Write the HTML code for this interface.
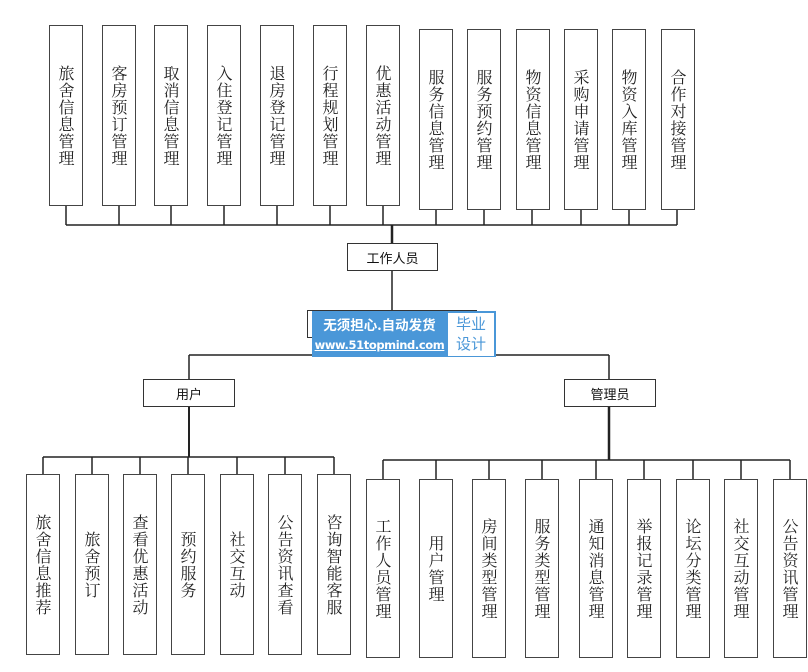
<!DOCTYPE html>
<html><head><meta charset="utf-8"><style>
html,body{margin:0;padding:0;background:#fff;}
body{width:808px;height:672px;position:relative;overflow:hidden;font-family:"Liberation Sans","Noto Sans CJK SC",sans-serif;}
.v{position:absolute;box-sizing:border-box;border:1.5px solid #444;background:#fff;display:flex;justify-content:center;align-items:center;}
.v span{writing-mode:vertical-rl;font-family:"Noto Serif CJK SC","Noto Sans CJK SC",serif;font-size:16px;line-height:18px;color:#222;letter-spacing:1px;}
.h{position:absolute;box-sizing:border-box;border:1.5px solid #333;background:#fff;display:flex;justify-content:center;align-items:center;font-size:13px;color:#111;font-family:"Noto Sans CJK SC",sans-serif;}
svg{position:absolute;left:0;top:0;}
</style></head><body>
<svg width="808" height="672">
<g stroke="#222" stroke-width="1.5" fill="none">
<line x1="66" y1="225" x2="677" y2="225"/>
<line x1="66" y1="205" x2="66" y2="225"/><line x1="119" y1="205" x2="119" y2="225"/><line x1="171" y1="205" x2="171" y2="225"/><line x1="224" y1="205" x2="224" y2="225"/><line x1="277" y1="205" x2="277" y2="225"/><line x1="330" y1="205" x2="330" y2="225"/><line x1="383" y1="205" x2="383" y2="225"/>
<line x1="436" y1="209" x2="436" y2="225"/><line x1="484" y1="209" x2="484" y2="225"/><line x1="532" y1="209" x2="532" y2="225"/><line x1="581" y1="209" x2="581" y2="225"/><line x1="629" y1="209" x2="629" y2="225"/><line x1="677" y1="209" x2="677" y2="225"/>
<line x1="392" y1="225" x2="392" y2="243" stroke-width="2.5"/>
<line x1="392" y1="270" x2="392" y2="312"/>
<line x1="189" y1="355" x2="609" y2="355"/>
<line x1="189" y1="355" x2="189" y2="379"/>
<line x1="609" y1="355" x2="609" y2="379"/>
<line x1="189" y1="406" x2="189" y2="457" stroke-width="2"/>
<line x1="609" y1="406" x2="609" y2="460" stroke-width="2.5"/>
<line x1="43" y1="457" x2="334" y2="457"/>
<line x1="43" y1="457" x2="43" y2="474"/><line x1="92" y1="457" x2="92" y2="474"/><line x1="140" y1="457" x2="140" y2="474"/><line x1="188" y1="457" x2="188" y2="474"/><line x1="237" y1="457" x2="237" y2="474"/><line x1="285" y1="457" x2="285" y2="474"/><line x1="334" y1="457" x2="334" y2="474"/>
<line x1="383" y1="460" x2="790" y2="460"/>
<line x1="383" y1="460" x2="383" y2="479"/><line x1="436" y1="460" x2="436" y2="479"/><line x1="489" y1="460" x2="489" y2="479"/><line x1="542" y1="460" x2="542" y2="479"/><line x1="596" y1="460" x2="596" y2="479"/><line x1="644" y1="460" x2="644" y2="479"/><line x1="693" y1="460" x2="693" y2="479"/><line x1="741" y1="460" x2="741" y2="479"/><line x1="790" y1="460" x2="790" y2="479"/>
</g></svg>

<div class="v" style="left:49px;top:25px;width:34px;height:181px"><span>旅舍信息管理</span></div>
<div class="v" style="left:102px;top:25px;width:34px;height:181px"><span>客房预订管理</span></div>
<div class="v" style="left:154px;top:25px;width:34px;height:181px"><span>取消信息管理</span></div>
<div class="v" style="left:207px;top:25px;width:34px;height:181px"><span>入住登记管理</span></div>
<div class="v" style="left:260px;top:25px;width:34px;height:181px"><span>退房登记管理</span></div>
<div class="v" style="left:313px;top:25px;width:34px;height:181px"><span>行程规划管理</span></div>
<div class="v" style="left:366px;top:25px;width:34px;height:181px"><span>优惠活动管理</span></div>
<div class="v" style="left:419px;top:29px;width:34px;height:181px"><span>服务信息管理</span></div>
<div class="v" style="left:467px;top:29px;width:34px;height:181px"><span>服务预约管理</span></div>
<div class="v" style="left:516px;top:29px;width:34px;height:181px"><span>物资信息管理</span></div>
<div class="v" style="left:564px;top:29px;width:34px;height:181px"><span>采购申请管理</span></div>
<div class="v" style="left:612px;top:29px;width:34px;height:181px"><span>物资入库管理</span></div>
<div class="v" style="left:661px;top:29px;width:34px;height:181px"><span>合作对接管理</span></div>

<div class="h" style="left:347px;top:243px;width:91px;height:28px">工作人员</div>
<div class="h" style="left:307px;top:310px;width:170px;height:28px"></div>
<div style="position:absolute;left:312px;top:311px;width:184px;height:46px;background:#4a97d8;"></div>
<div style="position:absolute;left:312px;top:314px;width:135px;color:#fff;font-size:13.5px;font-weight:bold;text-align:center;font-family:'Noto Sans CJK SC',sans-serif;line-height:20px;">无须担心.自动发货</div>
<div style="position:absolute;left:312px;top:336px;width:135px;color:#fff;font-size:11.5px;font-weight:bold;text-align:center;text-decoration:underline;font-family:'DejaVu Sans',sans-serif;line-height:18px;letter-spacing:-0.4px;white-space:nowrap;">www.51topmind.com</div>
<div style="position:absolute;left:448px;top:313px;width:46px;height:43px;background:#fff;color:#4a97d8;font-size:15px;line-height:20px;text-align:center;font-family:'Noto Sans CJK SC',sans-serif;padding-top:1px;box-sizing:border-box;">毕业<br>设计</div>

<div class="h" style="left:143px;top:379px;width:92px;height:28px">用户</div>
<div class="h" style="left:564px;top:379px;width:92px;height:28px">管理员</div>

<div class="v" style="left:26px;top:474px;width:34px;height:181px"><span>旅舍信息推荐</span></div>
<div class="v" style="left:75px;top:474px;width:34px;height:181px"><span>旅舍预订</span></div>
<div class="v" style="left:123px;top:474px;width:34px;height:181px"><span>查看优惠活动</span></div>
<div class="v" style="left:171px;top:474px;width:34px;height:181px"><span>预约服务</span></div>
<div class="v" style="left:220px;top:474px;width:34px;height:181px"><span>社交互动</span></div>
<div class="v" style="left:268px;top:474px;width:34px;height:181px"><span>公告资讯查看</span></div>
<div class="v" style="left:317px;top:474px;width:34px;height:181px"><span>咨询智能客服</span></div>

<div class="v" style="left:366px;top:479px;width:34px;height:179px"><span>工作人员管理</span></div>
<div class="v" style="left:419px;top:479px;width:34px;height:179px"><span>用户管理</span></div>
<div class="v" style="left:472px;top:479px;width:34px;height:179px"><span>房间类型管理</span></div>
<div class="v" style="left:525px;top:479px;width:34px;height:179px"><span>服务类型管理</span></div>
<div class="v" style="left:579px;top:479px;width:34px;height:179px"><span>通知消息管理</span></div>
<div class="v" style="left:627px;top:479px;width:34px;height:179px"><span>举报记录管理</span></div>
<div class="v" style="left:676px;top:479px;width:34px;height:179px"><span>论坛分类管理</span></div>
<div class="v" style="left:724px;top:479px;width:34px;height:179px"><span>社交互动管理</span></div>
<div class="v" style="left:773px;top:479px;width:34px;height:179px"><span>公告资讯管理</span></div>
</body></html>
